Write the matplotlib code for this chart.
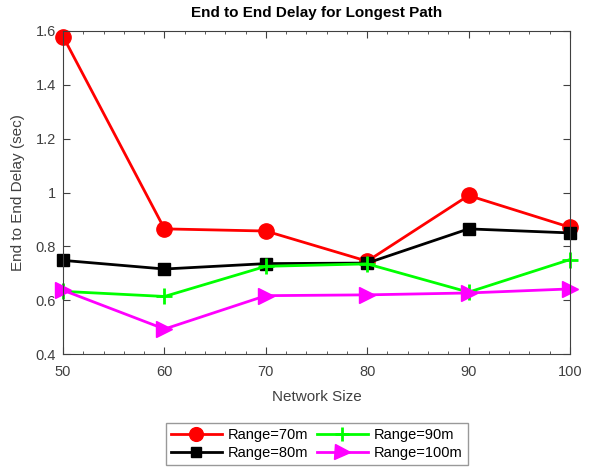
import matplotlib
matplotlib.use("Agg")
import matplotlib.pyplot as plt
from matplotlib.ticker import MultipleLocator

plt.rcParams['font.family'] = ['Liberation Sans', 'DejaVu Sans']

# network sizes and delay per transmission range
network_size = [50, 60, 70, 80, 90, 100]
delay_70m = [1.579, 0.865, 0.857, 0.745, 0.989, 0.871]
delay_80m = [0.748, 0.716, 0.736, 0.738, 0.865, 0.850]
delay_90m = [0.633, 0.614, 0.726, 0.735, 0.630, 0.751]
delay_100m = [0.637, 0.493, 0.617, 0.620, 0.627, 0.642]

fig = plt.figure(figsize=(5.9, 4.69), dpi=100)
ax = fig.add_axes([0.107, 0.245, 0.859, 0.689])

ax.plot(network_size, delay_70m, color='#ff0000', lw=2, marker='o', ms=11, label='Range=70m', clip_on=False)
ax.plot(network_size, delay_80m, color='black', lw=2, marker='s', ms=8, label='Range=80m', clip_on=False)
ax.plot(network_size, delay_90m, color='#00ff00', lw=2, marker='+', ms=11, mew=2, label='Range=90m', clip_on=False)
ax.plot(network_size, delay_100m, color='#ff00ff', lw=2, marker='>', ms=12, label='Range=100m', clip_on=False)

ax.set_xlim(50, 100)
ax.set_ylim(0.4, 1.6)
ax.set_xticks(network_size)
ax.set_yticks([0.4, 0.6, 0.8, 1.0, 1.2, 1.4, 1.6])
ax.set_yticklabels(['0.4', '0.6', '0.8', '1', '1.2', '1.4', '1.6'])
ax.xaxis.set_minor_locator(MultipleLocator(2))
ax.tick_params(which='both', direction='in', top=True, right=True, colors='#404040',
               labelcolor='#404040', labelsize=10.5)
ax.tick_params(which='major', length=5)
ax.tick_params(which='minor', length=2.5)
ax.tick_params(axis='x', pad=8)
ax.tick_params(axis='y', pad=5)
for s in ax.spines.values():
    s.set_color('#404040')
    s.set_linewidth(0.8)

ax.set_title('End to End Delay for Longest Path', fontsize=11, fontweight='bold', pad=10)
ax.set_xlabel('Network Size', fontsize=11, color='#404040', labelpad=8)
ax.set_ylabel('End to End Delay (sec)', fontsize=11, color='#404040', labelpad=8)

ax.legend(ncol=2, loc='upper center', bbox_to_anchor=(0.5, -0.19), fontsize=10.5,
          fancybox=False, edgecolor='#999999', framealpha=1, handlelength=3.5,
          handletextpad=0.4, columnspacing=0.6, borderpad=0.35, labelspacing=0.3,
          markerscale=0.9)

fig.savefig('out.png', dpi=100)
